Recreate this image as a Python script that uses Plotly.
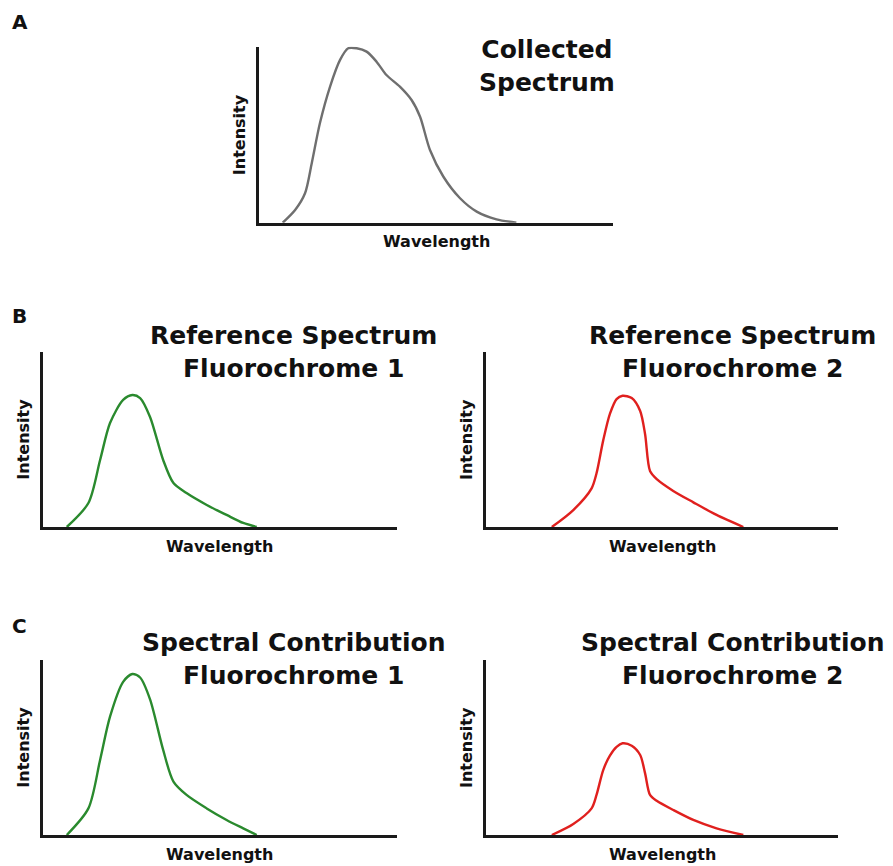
import plotly.graph_objects as go

# ---------------- data (normalised: wavelength 0-100, intensity 0-100) ----------------
wl_collected = [6.7, 10.2, 13.0, 14.9, 17.2, 20.1, 22.9, 25.2, 27.6, 30.4, 33.2, 36.0,
                39.8, 43.1, 45.5, 48.3, 52.1, 56.8, 61.5, 67.1, 72.7]
int_collected = [0, 7.2, 16.7, 33.8, 56.5, 77.5, 92.5, 99.1, 99.1, 97.2, 91.5, 83.9,
                 77.3, 69.7, 60.2, 41.3, 26.1, 13.9, 6.3, 1.9, 0]

wl_f1 = [6.8, 12.9, 16.2, 19.0, 22.7, 25.3, 27.5, 30.3, 34.0, 36.9, 40.6, 46.3, 51.9, 56.6, 60.4]
ref_f1 = [0, 13.7, 38.3, 59.4, 72.6, 75.4, 73.7, 62.9, 38.3, 25.1, 19.4, 12.6, 6.9, 2.3, 0]
contrib_f1 = [0, 15.2, 42.9, 67.6, 87.5, 92.0, 90.0, 77.5, 48.6, 30.5, 22.9, 15.2, 8.6, 3.8, 0]

wl_f2 = [18.7, 24.8, 30.0, 31.4, 33.3, 35.2, 37.1, 38.8, 41.4, 43.8, 45.2, 46.6, 48.6,
         53.2, 58.9, 65.5, 73.1]
ref_f2 = [0, 9.7, 22.1, 30.7, 49.5, 64.6, 73.1, 75.0, 73.7, 66.3, 53.0, 32.0, 27.2,
          20.6, 14.1, 6.9, 0]
contrib_f2 = [0, 6.3, 15.2, 22.9, 37.1, 45.4, 50.4, 52.4, 51.0, 45.7, 35.2, 22.9, 19.4,
              14.3, 8.6, 3.8, 0]

titles = ["Collected<br>Spectrum",
          "Reference Spectrum<br>Fluorochrome 1",
          "Reference Spectrum<br>Fluorochrome 2",
          "Spectral Contribution<br>Fluorochrome 1",
          "Spectral Contribution<br>Fluorochrome 2"]
panel_letters = ["A", "B", "C"]
x_label = "Wavelength"
y_label = "Intensity"

GRAY = "#6f6f6f"
GREEN = "#2a8a2e"
RED = "#e0201e"

W, H = 893, 866
OFF = 8  # page body margin of the browser
FW, FH = W - OFF, H - OFF
FONT = "DejaVu Sans"


def px_x(p):
    return (p - OFF) / FW


def px_y(p):
    return 1 - (p - OFF) / FH


# panel boxes in page pixels: (left, right, top, bottom)
boxes = [
    (259, 613, 46.7, 222.7),
    (42.7, 397, 352, 527),
    (486, 838, 352, 527),
    (42.7, 397, 660, 835),
    (486, 838, 660, 835),
]
series = [
    (wl_collected, int_collected, GRAY),
    (wl_f1, ref_f1, GREEN),
    (wl_f2, ref_f2, RED),
    (wl_f1, contrib_f1, GREEN),
    (wl_f2, contrib_f2, RED),
]

fig = go.Figure()
annotations = []
layout = {}

for i, ((l, r, t, b), (xs, ys, col)) in enumerate(zip(boxes, series)):
    n = "" if i == 0 else str(i + 1)
    xa, ya = "x" + n, "y" + n
    fig.add_trace(go.Scatter(x=xs, y=ys, mode="lines", xaxis=xa, yaxis=ya,
                             line=dict(color=col, width=2.4, shape="spline", smoothing=0.8),
                             showlegend=False, hoverinfo="skip"))
    axis_common = dict(showgrid=False, zeroline=False, showticklabels=False, ticks="",
                       showline=True, linecolor="#1a1a1a", linewidth=2.6, fixedrange=True)
    layout["xaxis" + n] = dict(domain=[px_x(l), px_x(r)], range=[0, 100],
                               anchor=ya, **axis_common)
    layout["yaxis" + n] = dict(domain=[px_y(b), px_y(t)], range=[0, 100],
                               anchor=xa, **axis_common)
    cx = (l + r) / 2
    cy = (t + b) / 2
    annotations.append(dict(text=f"<b>{x_label}</b>", xref="paper", yref="paper",
                            x=px_x(cx), y=px_y(b + 19), xanchor="center", yanchor="middle",
                            showarrow=False, font=dict(family=FONT, size=16, color="#111")))
    annotations.append(dict(text=f"<b>{y_label}</b>", xref="paper", yref="paper",
                            x=px_x(l - 19.5), y=px_y(cy), xanchor="center", yanchor="middle",
                            textangle=-90, showarrow=False,
                            font=dict(family=FONT, size=16, color="#111")))

# titles (page pixel centre x, page pixel top y)
title_pos = [(547, 33), (293, 319), (732.5, 319), (293, 626), (732, 626)]
for (tx, ty), title in zip(title_pos, titles):
    annotations.append(dict(text=f"<b>{title}</b>", xref="paper", yref="paper",
                            x=px_x(tx), y=px_y(ty), xanchor="center", yanchor="top",
                            align="center", showarrow=False,
                            font=dict(family=FONT, size=25, color="#111")))

# panel letters (page pixel left x, page pixel top y of text box)
letter_pos = [(10, 8), (10, 302), (10, 612)]
for (lx, ly), letter in zip(letter_pos, panel_letters):
    annotations.append(dict(text=f"<b>{letter}</b>", xref="paper", yref="paper",
                            x=px_x(lx), y=px_y(ly), xanchor="left", yanchor="top",
                            showarrow=False, font=dict(family=FONT, size=20, color="#111")))

fig.update_layout(width=FW, height=FH, margin=dict(l=0, r=0, t=0, b=0),
                  paper_bgcolor="white", plot_bgcolor="white",
                  annotations=annotations, **layout)

fig.write_html("out.html", config={"displayModeBar": False})
